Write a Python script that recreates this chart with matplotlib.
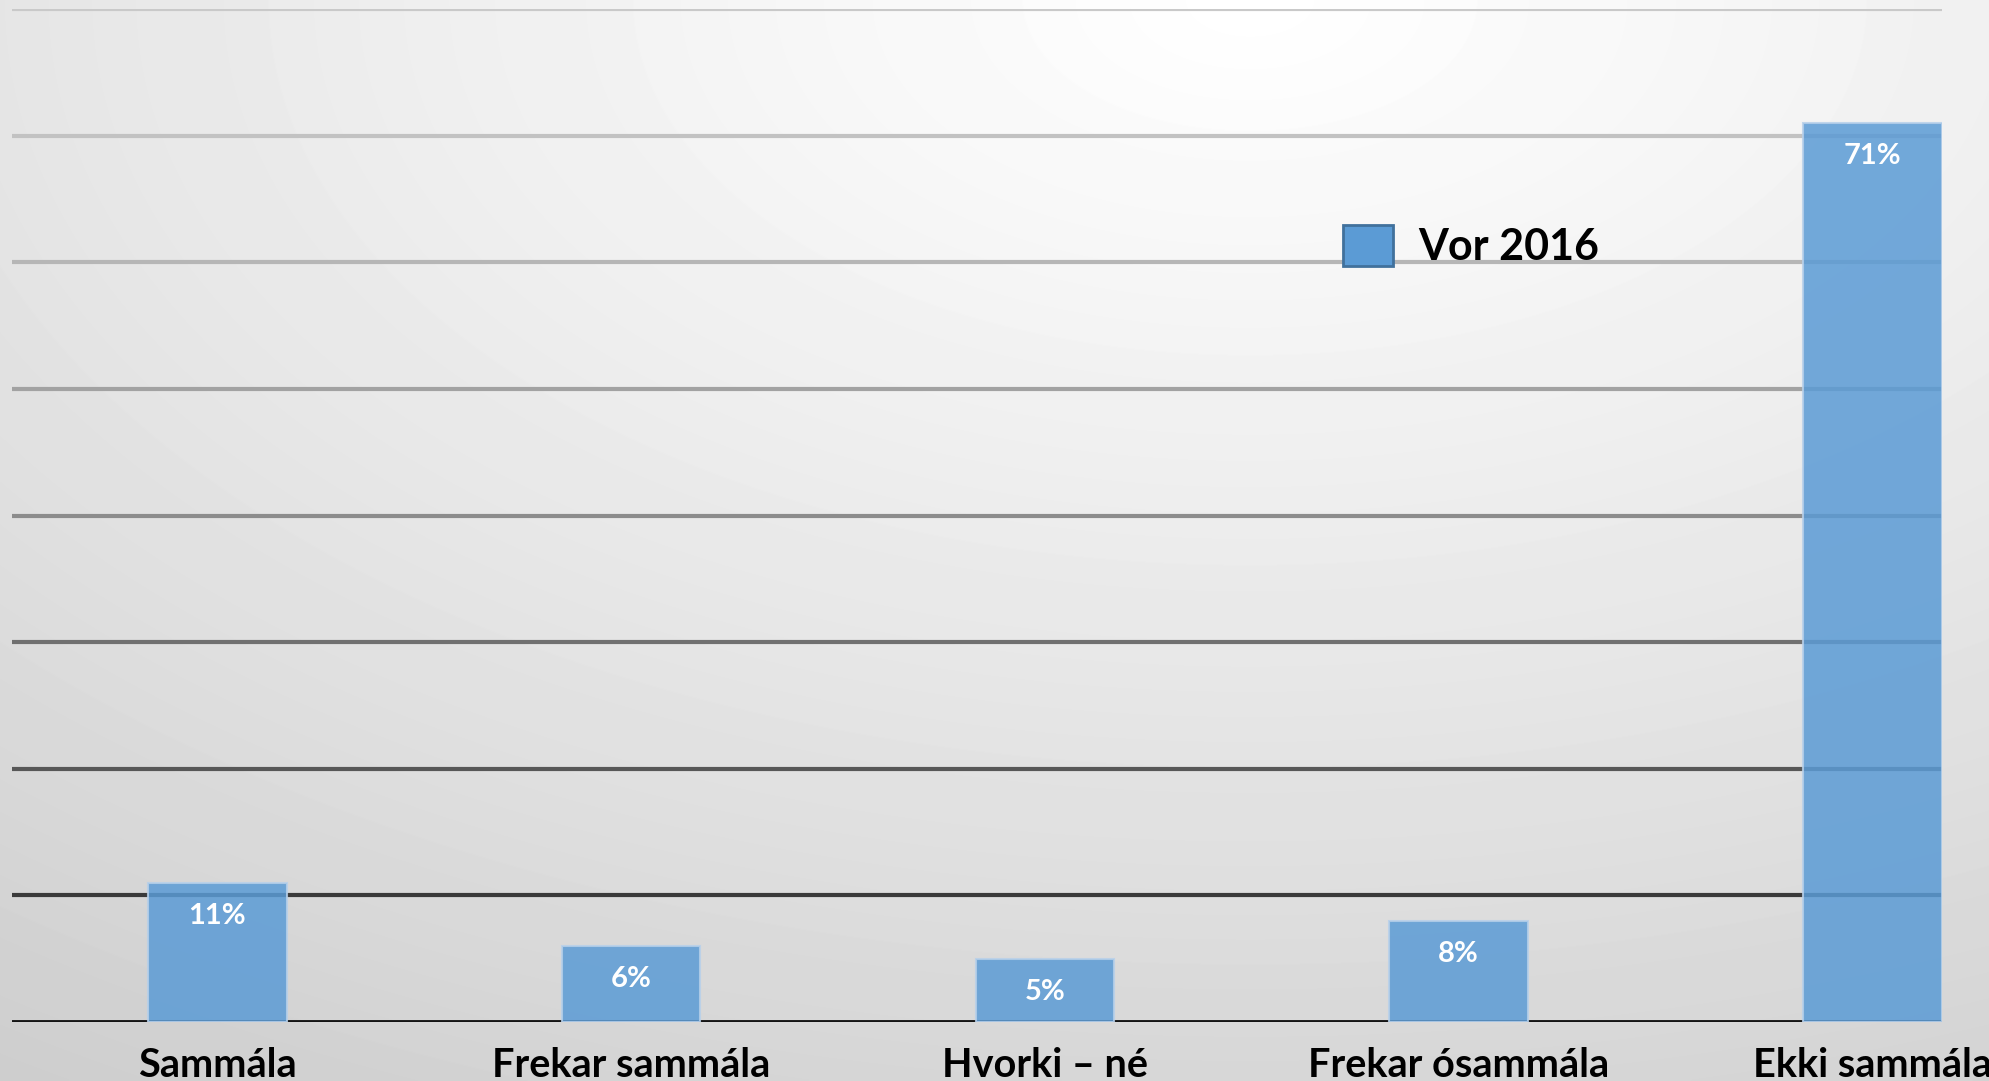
import numpy as np
import matplotlib.pyplot as plt
from matplotlib.patches import Patch

# data
categories = ['Sammála', 'Frekar sammála', 'Hvorki – né', 'Frekar ósammála', 'Ekki sammála']
values = [11, 6, 5, 8, 71]
labels = ['11%', '6%', '5%', '8%', '71%']
series_name = 'Vor 2016'
grid_levels = [0, 10, 20, 30, 40, 50, 60, 70, 80]
grid_colors = ['#141414', '#3a3a3a', '#575757', '#707070', '#8c8c8c',
               '#a2a2a2', '#b6b6b6', '#c2c2c2', '#c9c9c9']

plt.rcParams['font.family'] = ['Lato', 'DejaVu Sans']

W, H = 1990, 1081
fig = plt.figure(figsize=(W / 100, H / 100), dpi=100)

# background: soft radial gradient, brightest near top centre-right
bg = fig.add_axes([0, 0, 1, 1], zorder=-10)
yy, xx = np.mgrid[0:H, 0:W]
d = np.sqrt(((xx - 1250) / 1250.0) ** 2 + ((yy - 0) / 720.0) ** 2)
shade = 255 - 26 * d ** 1.1
shade = np.clip(shade, 205, 255) / 255.0
bg.imshow(shade, cmap='gray', vmin=0, vmax=1, aspect='auto', interpolation='bilinear')
bg.axis('off')

# main axes placed to line up with the picture
left, right, top, base = 12, 1942, 9, 1022
ax = fig.add_axes([left / W, 1 - base / H, (right - left) / W, (base - top) / H])
ax.patch.set_alpha(0)

x = np.arange(len(categories))
for lvl, col in zip(grid_levels, grid_colors):
    ax.axhline(lvl, color=col, lw=3 if lvl else 3.5, zorder=1)

bars = ax.bar(x, values, width=0.335, color='#5B9BD5', alpha=0.85,
              edgecolor='#b7d0ea', linewidth=1.5, zorder=2)

for xi, v, lab in zip(x, values, labels):
    ax.annotate(lab, (xi, v), xytext=(0, -33), textcoords='offset pixels',
                ha='center', va='center', color='white', fontsize=21,
                fontweight='bold', zorder=3)

ax.set_xlim(-0.496, 4.168)
ax.set_ylim(0, 80)
ax.set_xticks(x)
ax.set_xticklabels(categories, fontsize=28.5, fontweight='bold')
ax.tick_params(axis='x', length=0, pad=18)
ax.set_yticks([])
for s in ax.spines.values():
    s.set_visible(False)

handle = Patch(facecolor='#5B9BD5', edgecolor='#41719C', linewidth=2)
ax.legend([handle], [series_name], loc='center left',
          bbox_to_anchor=(1343 / W, 1 - 246 / H), bbox_transform=fig.transFigure,
          frameon=False, prop={'weight': 'bold', 'size': 31},
          handlelength=1.15, handleheight=1.1, handletextpad=0.6, borderpad=0,
          borderaxespad=0)

fig.savefig('out.png', dpi=100)
